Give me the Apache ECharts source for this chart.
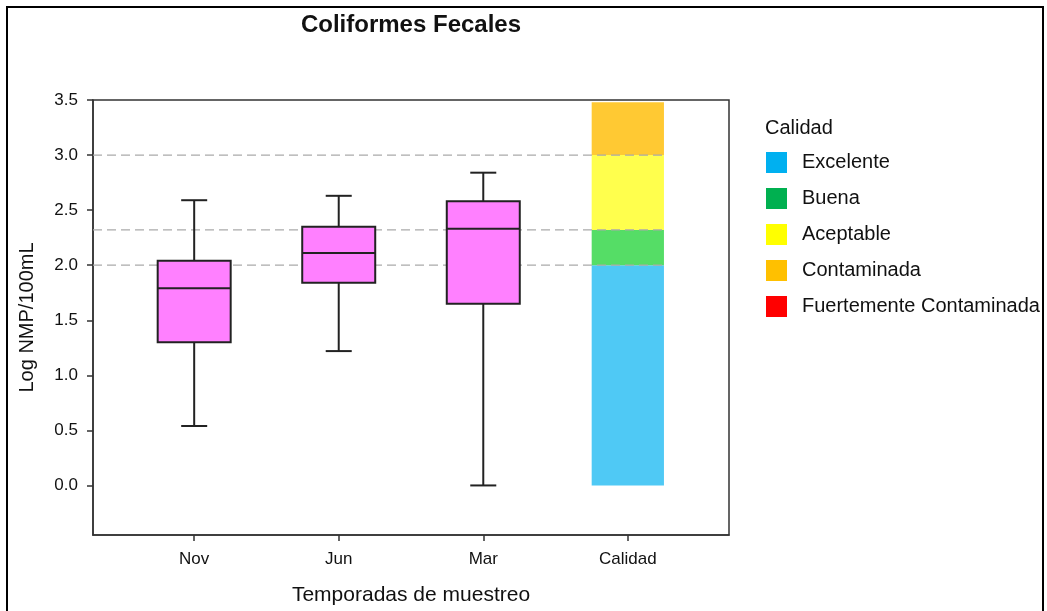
<!DOCTYPE html>
<html><head><meta charset="utf-8">
<script src="https://cdn.jsdelivr.net/npm/echarts@6/dist/echarts.min.js"></script>
<style>html,body{margin:0;padding:0;background:#fff}#c{width:1047px;height:611px}</style>
</head><body><div id="c"></div>
<script>
const categories = ['Nov', 'Jun', 'Mar', 'Calidad'];
// [min, Q1, median, Q3, max]
const boxNov = [0.54, 1.30, 1.79, 2.04, 2.59];
const boxJun = [1.22, 1.84, 2.11, 2.35, 2.63];
const boxMar = [0.00, 1.65, 2.33, 2.58, 2.84];
const qualityNames = ['Excelente', 'Buena', 'Aceptable', 'Contaminada', 'Fuertemente Contaminada'];
const qualityLower = [0.0, 2.0, 2.32, 3.0, null];
const qualityUpper = [2.0, 2.32, 3.0, 3.48, null];
const thresholds = [2.0, 2.32, 3.0];
const yTicks = [0, 0.5, 1.0, 1.5, 2.0, 2.5, 3.0, 3.5];
const xTicks = [0, 1, 2, 3];

const legendColors = ['#00B0F0', '#00B050', '#FFFF00', '#FFC000', '#FF0000'];
const barColors = ['#4FC9F5', '#55DD66', '#FFFF4D', '#FFC933', '#FF4D4D'];
const FONT = "'Liberation Sans', Arial, sans-serif";

const chart = echarts.init(document.getElementById('c'), null, {renderer: 'canvas'});

const boxData = [boxNov, boxJun, boxMar].map((s, i) => [i, ...s]);

function renderBox(params, api) {
  const x = api.value(0);
  const vmin = api.coord([x, api.value(1)]);
  const q1 = api.coord([x, api.value(2)]);
  const med = api.coord([x, api.value(3)]);
  const q3 = api.coord([x, api.value(4)]);
  const vmax = api.coord([x, api.value(5)]);
  const bw = api.size([0.505, 0])[0];
  const cw = api.size([0.18, 0])[0];
  const cx = q1[0];
  const ls = {stroke: '#222', lineWidth: 2, fill: null};
  return {
    type: 'group',
    children: [
      {type: 'line', shape: {x1: cx, y1: vmin[1], x2: cx, y2: q1[1]}, style: ls},
      {type: 'line', shape: {x1: cx, y1: q3[1], x2: cx, y2: vmax[1]}, style: ls},
      {type: 'line', shape: {x1: cx - cw / 2, y1: vmin[1], x2: cx + cw / 2, y2: vmin[1]}, style: ls},
      {type: 'line', shape: {x1: cx - cw / 2, y1: vmax[1], x2: cx + cw / 2, y2: vmax[1]}, style: ls},
      {type: 'rect', shape: {x: cx - bw / 2, y: q3[1], width: bw, height: q1[1] - q3[1]},
        style: {fill: '#FF80FF', stroke: '#222', lineWidth: 2}},
      {type: 'line', shape: {x1: cx - bw / 2, y1: med[1], x2: cx + bw / 2, y2: med[1]}, style: ls}
    ]
  };
}

function renderQuality(params, api) {
  const x = api.value(0);
  const lo = api.coord([x - 0.25, api.value(1)]);
  const hi = api.coord([x + 0.25, api.value(2)]);
  return {
    type: 'rect',
    shape: {x: lo[0], y: hi[1], width: hi[0] - lo[0], height: lo[1] - hi[1]},
    style: {fill: api.visual('color')}
  };
}

function renderThreshold(params, api) {
  const t = api.value(0);
  const a = api.coord([-0.7, t]);
  const b = api.coord([3.26, t]);
  return {
    type: 'line',
    shape: {x1: a[0], y1: a[1], x2: b[0], y2: b[1]},
    style: {stroke: '#AAAAAA', lineWidth: 1.3, lineDash: [9, 5]}
  };
}

const qualitySeries = qualityNames.map((name, i) => ({
  name: name,
  type: 'custom',
  renderItem: renderQuality,
  itemStyle: {color: barColors[i]},
  encode: {x: 0, y: [1, 2]},
  data: qualityLower[i] === null ? [] : [[3, qualityLower[i], qualityUpper[i]]],
  z: 2
}));

const option = {
  animation: false,
  backgroundColor: '#fff',
  textStyle: {fontFamily: FONT},
  title: [
    {text: 'Coliformes Fecales', left: 411, top: 13, textAlign: 'center', padding: 0,
      textStyle: {fontFamily: FONT, fontSize: 24, fontWeight: 'bold', color: '#111'}},
    {text: 'Calidad', left: 765, top: 118, padding: 0,
      textStyle: {fontFamily: FONT, fontSize: 20, fontWeight: 'normal', color: '#111'}}
  ],
  legend: {
    orient: 'vertical',
    left: 766, top: 152,
    itemWidth: 21, itemHeight: 21, itemGap: 15,
    icon: 'rect',
    padding: 0,
    selectedMode: false,
    textStyle: {fontFamily: FONT, fontSize: 20, lineHeight: 21, color: '#111', padding: [0, 0, 0, 10]},
    data: qualityNames.map((n, i) => ({name: n, itemStyle: {color: legendColors[i]}}))
  },
  grid: {
    left: 93, top: 100, right: 318, bottom: 73,
    show: true, borderColor: '#333', borderWidth: 1.5, backgroundColor: 'transparent'
  },
  xAxis: {
    type: 'value', min: -0.7, max: 3.7,
    name: 'Temporadas de muestreo', nameLocation: 'middle', nameGap: 50,
    nameTextStyle: {fontFamily: FONT, fontSize: 21, color: '#111'},
    axisLine: {show: true, onZero: false, lineStyle: {color: '#333', width: 1.5}},
    axisTick: {show: true, customValues: xTicks, length: 6, lineStyle: {color: '#333', width: 1.5}},
    axisLabel: {customValues: xTicks, formatter: v => categories[Math.round(v)], margin: 16,
      fontFamily: FONT, fontSize: 17, color: '#111'},
    splitLine: {show: false}
  },
  yAxis: {
    type: 'value', min: -0.45, max: 3.5,
    name: 'Log NMP/100mL', nameLocation: 'middle', nameGap: 56, nameRotate: 90,
    nameTextStyle: {fontFamily: FONT, fontSize: 20, color: '#111'},
    axisLine: {show: true, onZero: false, lineStyle: {color: '#333', width: 1.5}},
    axisTick: {show: true, customValues: yTicks, length: 6, lineStyle: {color: '#333', width: 1.5}},
    axisLabel: {customValues: yTicks, formatter: v => v.toFixed(1), margin: 15,
      fontFamily: FONT, fontSize: 17, color: '#111'},
    splitLine: {show: false}
  },
  graphic: [
    {type: 'rect', shape: {x: 7, y: 7, width: 1036, height: 700},
      style: {fill: null, stroke: '#000', lineWidth: 2}, silent: true}
  ],
  series: [
    ...qualitySeries,
    {name: 'thresholds', type: 'custom', renderItem: renderThreshold, encode: {y: 0},
      data: thresholds.map(t => [t]), z: 3},
    {name: 'box', type: 'custom', renderItem: renderBox, encode: {x: 0, y: [1, 2, 3, 4, 5]},
      data: boxData, z: 4}
  ]
};
chart.setOption(option);
</script></body></html>
